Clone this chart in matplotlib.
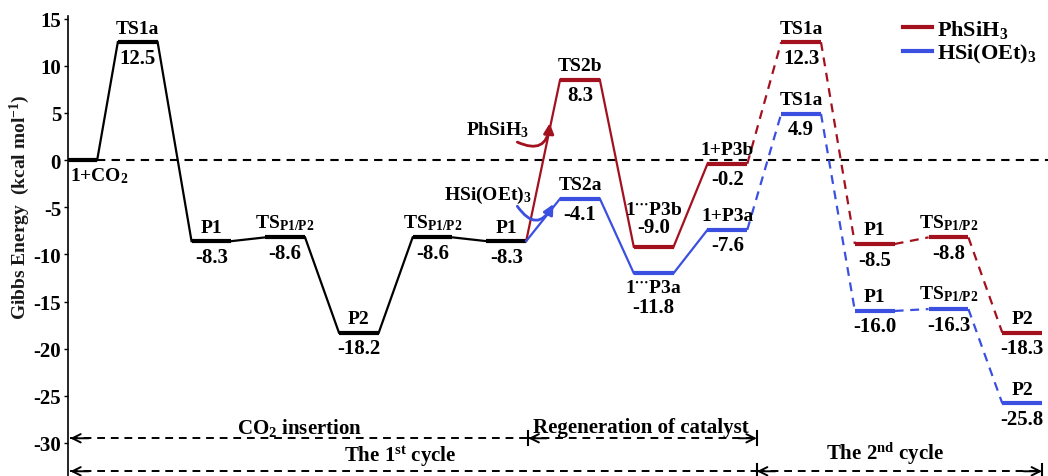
import numpy as np
import matplotlib
matplotlib.use('Agg')
import matplotlib.pyplot as plt
from matplotlib.lines import Line2D

plt.rcParams['font.family'] = ['Liberation Serif', 'DejaVu Serif']
plt.rcParams['font.weight'] = 'bold'
plt.rcParams['mathtext.fontset'] = 'custom'
plt.rcParams['mathtext.rm'] = 'Liberation Serif:bold'
plt.rcParams['mathtext.bf'] = 'Liberation Serif:bold'
plt.rcParams['mathtext.it'] = 'Liberation Serif:bold:italic'
plt.rcParams['axes.unicode_minus'] = False

# first cycle (shared), steps 0-6
black_names = ['1+CO$_2$', 'TS1a', 'P1', 'TS$_{\\mathrm{P1/P2}}$', 'P2', 'TS$_{\\mathrm{P1/P2}}$', 'P1']
black_energy = [0.0, 12.5, -8.6, -8.2, -18.3, -8.2, -8.6]
black_values = ['', '12.5', '-8.3', '-8.6', '-18.2', '-8.6', '-8.3']

# regeneration + 2nd cycle, steps 7-13
red_names = ['TS2b', '1$^{\\cdots}$P3b', '1+P3b', 'TS1a', 'P1', 'TS$_{\\mathrm{P1/P2}}$', 'P2']
red_energy = [8.5, -9.2, -0.4, 12.5, -8.9, -8.2, -18.3]
red_values = ['8.3', '-9.0', '-0.2', '12.3', '-8.5', '-8.8', '-18.3']

blue_names = ['TS2a', '1$^{\\cdots}$P3a', '1+P3a', 'TS1a', 'P1', 'TS$_{\\mathrm{P1/P2}}$', 'P2']
blue_energy = [-4.1, -12.0, -7.4, 4.9, -16.0, -15.8, -25.8]
blue_values = ['-4.1', '-11.8', '-7.6', '4.9', '-16.0', '-16.3', '-25.8']

series_names = ['PhSiH$_3$', 'HSi(OEt)$_3$']
stage_names = ['CO$_2$ insertion', 'Regeneration of catalyst',
               'The 1$^{\\mathrm{st}}$ cycle', 'The 2$^{\\mathrm{nd}}$ cycle']

RED = '#a3111f'
BLUE = '#3b4fe0'
W = 0.27
FN, FV = 14, 15  # name / value font sizes

fig = plt.figure(figsize=(10.48, 4.77), dpi=100)
ax = fig.add_axes([68 / 1048, 0, 980 / 1048, 460 / 477])
xmin, xmax = 0.054, 13.35
ax.set_xlim(xmin, xmax)
ax.set_ylim(-33.5, 15.27)


def level(x0, x1, e, color):
    ax.plot([x0, x1], [e, e], color=color, lw=3, solid_capstyle='butt')


def link(x0, e0, x1, e1, color, ls='-'):
    if ls == '-':
        ax.plot([x0, x1], [e0, e1], color=color, lw=1.6)
    else:
        ax.plot([x0, x1], [e0, e1], color=color, lw=1.6, ls=(0, (4, 3)))


def label(x, e, name, value, mode='split'):
    kw = dict(textcoords='offset points', ha='center')
    if mode == 'split':
        ax.annotate(name, (x, e), xytext=(0, 4), va='bottom', fontsize=FN, **kw)
        ax.annotate(value, (x, e), xytext=(0, -4), va='top', fontsize=FV, **kw)
    elif mode == 'above':
        ax.annotate(value, (x, e), xytext=(0, 7), va='bottom', fontsize=FV, **kw)
        ax.annotate(name, (x, e), xytext=(0, 21), va='bottom', fontsize=FN, **kw)
    else:
        ax.annotate(name, (x, e), xytext=(0, -4), va='top', fontsize=FN, **kw)
        ax.annotate(value, (x, e), xytext=(0, -17), va='top', fontsize=FV, **kw)


# black path
bx = np.arange(len(black_energy), dtype=float)
left = bx - W
right = bx + W
left[0], right[0] = xmin, 0.45
for i, e in enumerate(black_energy):
    level(left[i], right[i], e, 'black')
    if i > 0:
        link(right[i - 1], black_energy[i - 1], left[i], e, 'black')
        label(bx[i], e, black_names[i], black_values[i])
ax.annotate(black_names[0], (xmin + 0.03, 0), xytext=(0, -4), textcoords='offset points',
            ha='left', va='top', fontsize=FN)

# zero reference
ax.plot([right[0], xmax], [0, 0], color='black', lw=1.5, ls=(0, (4, 3)))

# red and blue paths
for energy, names, values, color in [(red_energy, red_names, red_values, RED),
                                     (blue_energy, blue_names, blue_values, BLUE)]:
    px, pe = bx[-1] + W, black_energy[-1]
    for j, e in enumerate(energy):
        x = 7 + j
        link(px, pe, x - W, e, color, '-' if j < 3 else '--')
        level(x - W, x + W, e, color)
        mode = 'split'
        if j == 1:
            mode = 'above' if color == RED else 'below'
        label(x, e, names[j], values[j], mode)
        px, pe = x + W, e

# reagent arrows
ax.text(5.88, 3.3, series_names[0], ha='center', va='center', fontsize=FN)
ax.annotate('', xy=(6.59, 3.9), xytext=(6.15, 1.9),
            arrowprops=dict(arrowstyle='-|>', color=RED, lw=2, mutation_scale=15,
                            connectionstyle='arc3,rad=0.7', shrinkA=0, shrinkB=0))
ax.text(5.75, -3.6, series_names[1], ha='center', va='center', fontsize=FN)
ax.annotate('', xy=(6.64, -4.67), xytext=(6.15, -4.9),
            arrowprops=dict(arrowstyle='-|>', color=BLUE, lw=2, mutation_scale=15,
                            connectionstyle='arc3,rad=0.8', shrinkA=0, shrinkB=0))


# stage spans at the bottom
def span(x0, x1, y, lhead, rhead, bars=()):
    ax.plot([x0, x1], [y, y], color='black', lw=1.4, ls=(0, (4, 3)), clip_on=False)
    ap = dict(arrowstyle='->', lw=1.4, color='black', shrinkA=0, shrinkB=0, mutation_scale=15)
    if lhead:
        ax.annotate('', xy=(x0, y), xytext=(x0 + 0.25, y), arrowprops=ap)
    if rhead:
        ax.annotate('', xy=(x1, y), xytext=(x1 - 0.25, y), arrowprops=ap)
    for b in bars:
        ax.plot([b, b], [y - 0.75, y + 0.75], color='black', lw=1.5, clip_on=False)


r1, r2 = -29.5, -33.0
span(xmin + 0.03, 6.30, r1, True, False)
span(6.30, 9.40, r1, True, True, bars=(6.30, 9.40))
span(xmin + 0.03, 9.40, r2, True, False, bars=(9.40,))
span(9.40, 13.27, r2, True, True, bars=(13.27,))
ax.text(3.2, -28.3, stage_names[0], ha='center', va='center', fontsize=FV)
ax.text(7.82, -28.3, stage_names[1], ha='center', va='center', fontsize=FV)
ax.text(4.56, -31.3, stage_names[2], ha='center', va='center', fontsize=FV)
ax.text(11.14, -31.0, stage_names[3], ha='center', va='center', fontsize=FV)

# axes styling
ax.set_yticks(np.arange(-30, 16, 5))
ax.set_xticks([])
ax.tick_params(axis='y', labelsize=15, length=3, width=1, pad=2)
for s in ['top', 'right', 'bottom']:
    ax.spines[s].set_visible(False)
ax.spines['left'].set_linewidth(1.2)
fig.text(20 / 1048, 1 - 207 / 477, 'Gibbs Energy  (kcal mol$^{-1}$)', rotation=90,
         ha='center', va='center', fontsize=14, color='#1a1a1a')

handles = [Line2D([], [], color=RED, lw=3), Line2D([], [], color=BLUE, lw=3)]
fig.legend(handles, series_names, loc='upper left', bbox_to_anchor=(903 / 1048, 1 - 19 / 477),
           frameon=False, fontsize=16, handlelength=1.3, handletextpad=0.25,
           borderpad=0, borderaxespad=0, labelspacing=0.1)

fig.savefig('out.png', dpi=100)
